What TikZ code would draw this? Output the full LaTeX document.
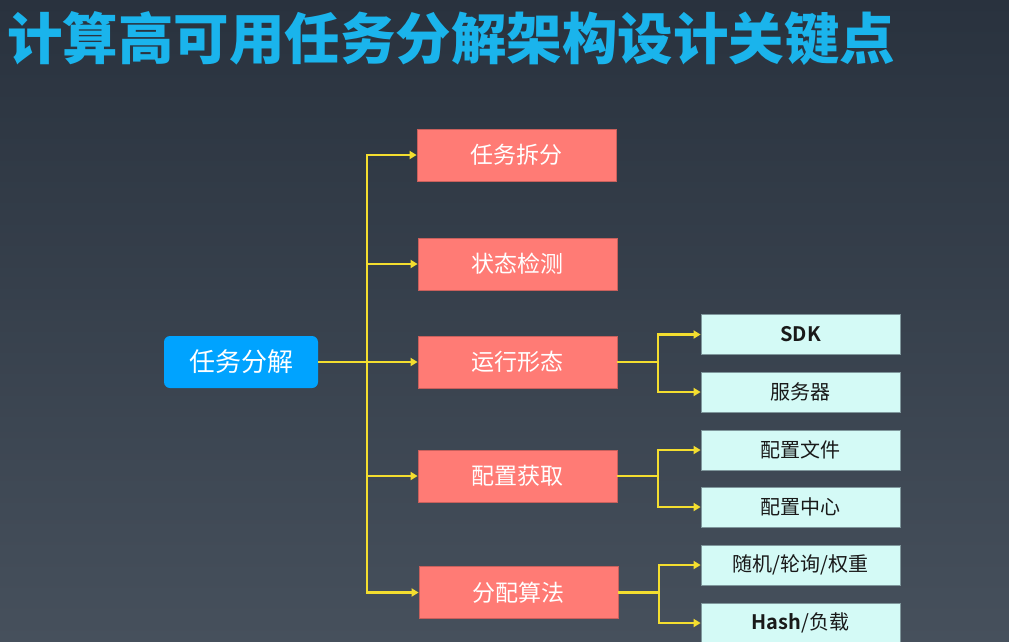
\documentclass[tikz,border=0pt]{standalone}
\usepackage{fontspec}
\setmainfont{Noto Sans CJK SC}[BoldFont={* Bold}]
\newfontfamily\titlef{Noto Sans CJK SC Black}
\usetikzlibrary{arrows.meta,positioning}
\definecolor{bgtop}{HTML}{29323E}
\definecolor{bgbot}{HTML}{46505C}
\definecolor{titleblue}{HTML}{1AB4EC}
\definecolor{rootblue}{HTML}{00A3FF}
\definecolor{boxred}{HTML}{FF7B75}
\definecolor{boxredline}{HTML}{C9605C}
\definecolor{boxcyan}{HTML}{D4FAF6}
\definecolor{boxcyanline}{HTML}{7F979C}
\definecolor{linkyellow}{HTML}{F4DE2F}
\begin{document}
\begin{tikzpicture}[x=1pt,y=-1pt,
  rootbox/.style={fill=rootblue,rounded corners=6pt,minimum width=154pt,minimum height=52pt,inner sep=0pt,text=white,font=\fontsize{26}{30}\selectfont},
  redbox/.style={fill=boxred,draw=boxredline,line width=0.8pt,minimum width=199pt,minimum height=52pt,inner sep=0pt,text=white,font=\fontsize{23}{27}\selectfont},
  cyanbox/.style={fill=boxcyan,draw=boxcyanline,line width=0.8pt,minimum width=199pt,minimum height=40pt,inner sep=0pt,text=black!90,font=\fontsize{20}{24}\selectfont},
  link/.style={draw=linkyellow,line width=2.6pt},
  arr/.style={link,-{Triangle[length=7pt,width=8pt]}}
]
\shade[top color=bgtop,bottom color=bgbot] (0,0) rectangle (1009,641);
\useasboundingbox (0,0) rectangle (1009,641);

\node[anchor=west,inner sep=0pt,text=titleblue,font=\fontsize{55.5}{60}\selectfont\titlef] (title) at (7,39) {计算高可用任务分解架构设计关键点};

\node[rootbox] (r) at (241,362) {任务分解};

\node[redbox] (b1) at (516.5,155) {任务拆分};
\node[redbox] (b2) at (517.5,264) {状态检测};
\node[redbox] (b3) at (517.5,362) {运行形态};
\node[redbox] (b4) at (517.5,476) {配置获取};
\node[redbox] (b5) at (518.5,592.5) {分配算法};

\node[cyanbox] (c1) at (800.5,334.5) {\bfseries SDK};
\node[cyanbox] (c2) at (800.5,392) {服务器};
\node[cyanbox] (c3) at (800.5,450) {配置文件};
\node[cyanbox] (c4) at (800.5,507) {配置中心};
\node[cyanbox] (c5) at (800.5,565) {随机/轮询/权重};
\node[cyanbox] (c6) at (800.5,623) {\textbf{Hash}/负载};

\coordinate (j) at (367,362);
\draw[arr] (r.east) -- (b3.west);
\draw[arr] (j) |- (b1.west);
\draw[arr] (j) |- (b2.west);
\draw[arr] (j) |- (b4.west);
\draw[arr] (j) |- (b5.west);

\coordinate (k3) at (658,362);
\coordinate (k4) at (658,476);
\coordinate (k5) at (659,592.5);
\draw[link] (b3.east) -- (k3);
\draw[link] (b4.east) -- (k4);
\draw[link] (b5.east) -- (k5);
\draw[arr] (k3) |- (c1.west);
\draw[arr] (k3) |- (c2.west);
\draw[arr] (k4) |- (c3.west);
\draw[arr] (k4) |- (c4.west);
\draw[arr] (k5) |- (c5.west);
\draw[arr] (k5) |- (c6.west);
\end{tikzpicture}
\end{document}
